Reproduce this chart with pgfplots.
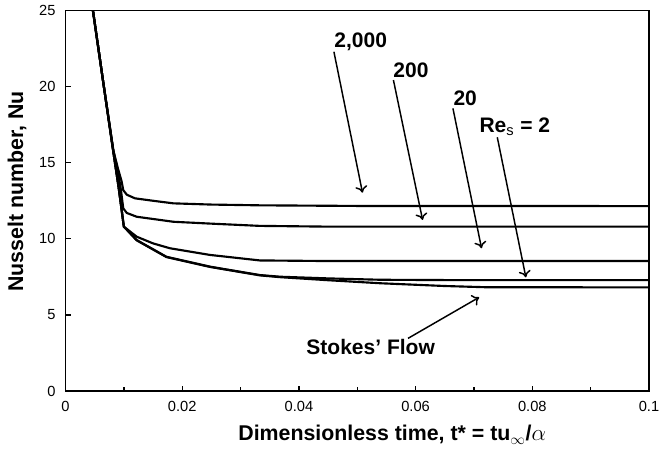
\documentclass[border=0pt]{standalone}
\usepackage{fontspec}
\setmainfont{Liberation Sans}
\usepackage{pgfplots}
\pgfplotsset{compat=1.18}
\usetikzlibrary{arrows.meta}
\begin{document}
\begin{tikzpicture}[x=1pt,y=1pt]
\begin{axis}[
  name=ax,
  scale only axis,
  width=437.6pt, height=285.4pt,
  xmin=0, xmax=0.1, ymin=0, ymax=25,
  xtick={0,0.02,0.04,0.06,0.08,0.1},
  xticklabels={0,0.02,0.04,0.06,0.08,0.1},
  minor xtick={0.01,0.03,0.05,0.07,0.09},
  ytick={0,5,10,15,20,25},
  tick align=inside,
  major tick length=4pt,
  minor tick length=3pt,
  xtick pos=bottom, ytick pos=left,
  axis line style={line width=1.4pt},
  every tick/.style={line width=1pt, black},
  /pgf/number format/assume math mode=true,
  tick label style={font=\fontsize{11pt}{13pt}\selectfont},
  xticklabel style={yshift=-4pt},
  yticklabel style={xshift=-4pt},
  xlabel={\textbf{Dimensionless time, t* = tu$_{\infty}$/$\alpha$}},
  ylabel={\textbf{Nusselt number, Nu}},
  label style={font=\fontsize{16pt}{19pt}\selectfont},
  xlabel style={at={(axis description cs:0.56,-0.115)}, anchor=center},
  ylabel style={at={(axis description cs:-0.083,0.524)}, anchor=center},
  clip=true,
]
% Re = 2000
\addplot[black, line width=1.6pt] coordinates {(0.0047,25) (0.0065,20.2) (0.0082,15.8) (0.0090,14.6) (0.0096,13.8) (0.0099,13.2) (0.0105,12.9) (0.0119,12.66) (0.0150,12.5) (0.0185,12.33) (0.0250,12.25) (0.0333,12.2) (0.05,12.16) (0.1,12.15)};
% Re = 200
\addplot[black, line width=1.6pt] coordinates {(0.0047,25) (0.0065,20.2) (0.0082,15.8) (0.0090,14.4) (0.0095,13.2) (0.0099,12.0) (0.0105,11.7) (0.0122,11.45) (0.0185,11.12) (0.0248,11.0) (0.0333,10.85) (0.045,10.8) (0.1,10.8)};
% Re = 20
\addplot[black, line width=1.6pt] coordinates {(0.0047,25) (0.0065,20.2) (0.0082,15.7) (0.0091,13.4) (0.0100,10.8) (0.0122,10.14) (0.0150,9.7) (0.0179,9.38) (0.0248,8.94) (0.0333,8.58) (0.045,8.54) (0.1,8.54)};
% Re = 2
\addplot[black, line width=1.6pt] coordinates {(0.0047,25) (0.0065,20.2) (0.0082,15.7) (0.0091,13.4) (0.0100,10.8) (0.0122,9.92) (0.0173,8.82) (0.0248,8.17) (0.0333,7.62) (0.0368,7.51) (0.045,7.4) (0.054,7.31) (0.065,7.29) (0.1,7.29)};
% Stokes
\addplot[black, line width=1.6pt] coordinates {(0.0047,25) (0.0065,20.2) (0.0082,15.7) (0.0091,13.4) (0.0100,10.8) (0.0122,9.9) (0.0173,8.8) (0.0248,8.15) (0.0333,7.6) (0.0368,7.48) (0.045,7.28) (0.054,7.08) (0.065,6.9) (0.072,6.82) (0.1,6.81)};
% annotations
\begin{scope}[font=\bfseries\fontsize{15.75pt}{18pt}\selectfont]
\node at (axis cs:0.0506,22.93) {2,000};
\node at (axis cs:0.0592,21.09) {200};
\node at (axis cs:0.0685,19.25) {20};
\node at (axis cs:0.0770,17.35) {Re$_{\mathrm{s}}$ = 2};
\node at (axis cs:0.0523,2.92) {Stokes' Flow};
\end{scope}
\begin{scope}[line width=1.1pt, -{To[length=5pt,width=9pt]}]
\draw (axis cs:0.0460,22.29) -- (axis cs:0.0509,13.03);
\draw (axis cs:0.0562,20.43) -- (axis cs:0.0612,11.24);
\draw (axis cs:0.0664,18.57) -- (axis cs:0.0713,9.38);
\draw (axis cs:0.0740,16.67) -- (axis cs:0.0789,7.47);
\draw (axis cs:0.0587,3.46) -- (axis cs:0.0709,6.16);
\end{scope}
\end{axis}
\pgfresetboundingbox
\path[use as bounding box] ([xshift=-49.125pt,yshift=-45.75pt]ax.south west) rectangle ([xshift=7.5pt,yshift=7.875pt]ax.north east);
\end{tikzpicture}
\end{document}
